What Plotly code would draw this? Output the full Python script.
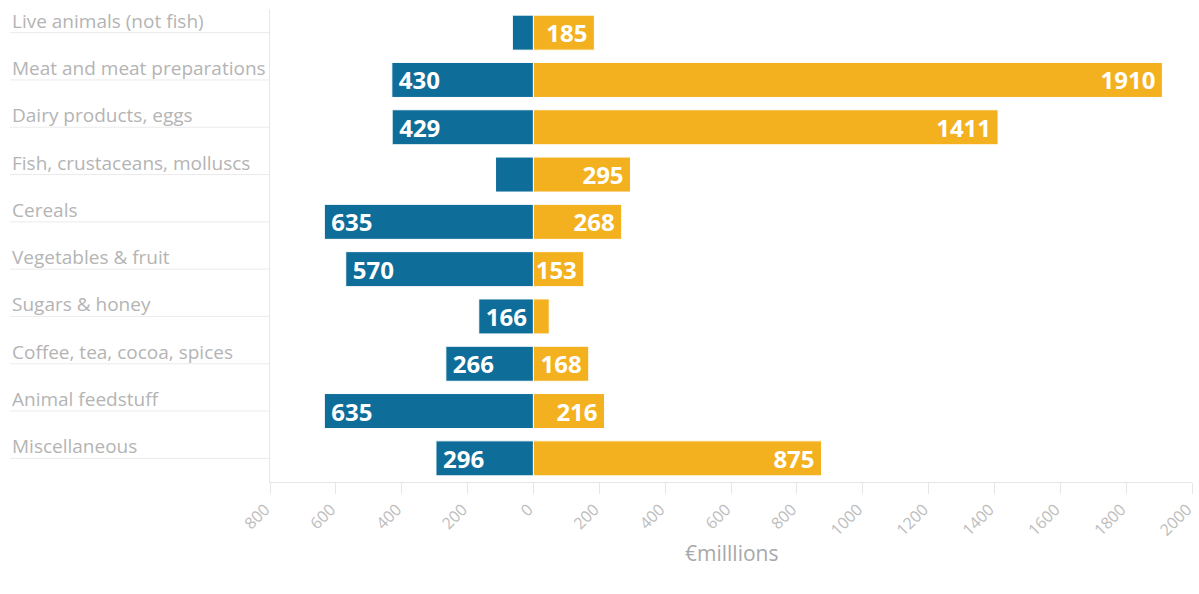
import plotly.graph_objects as go

categories = [
    "Live animals (not fish)",
    "Meat and meat preparations",
    "Dairy products, eggs",
    "Fish, crustaceans, molluscs",
    "Cereals",
    "Vegetables & fruit",
    "Sugars & honey",
    "Coffee, tea, cocoa, spices",
    "Animal feedstuff",
    "Miscellaneous",
]
blue_values = [64, 430, 429, 115, 635, 570, 166, 266, 635, 296]
yellow_values = [185, 1910, 1411, 295, 268, 153, 48, 168, 216, 875]
tick_values = [-800, -600, -400, -200, 0, 200, 400, 600, 800, 1000, 1200, 1400, 1600, 1800, 2000]
tick_labels = ["800", "600", "400", "200", "0", "200", "400", "600", "800", "1000", "1200", "1400", "1600", "1800", "2000"]
axis_title = "€milllions"

BLUE = "#0f6d9a"
YELLOW = "#f4b11f"
FONT = "Open Sans"
LABEL_MIN = 150
PAD = "\u2009"

pos = list(range(len(categories)))

fig = go.Figure()
fig.add_trace(go.Bar(
    y=pos, x=[-v for v in blue_values], orientation="h",
    marker=dict(color=BLUE, line=dict(color="white", width=1)),
    text=[PAD + str(v) if v >= LABEL_MIN else "" for v in blue_values],
    textposition="inside", insidetextanchor="end",
    textfont=dict(family=FONT, size=24, color="white", weight="bold"),
    width=0.74, showlegend=False,
))
fig.add_trace(go.Bar(
    y=pos, x=yellow_values, orientation="h",
    marker=dict(color=YELLOW, line=dict(color="white", width=1)),
    text=[str(v) + PAD if v >= LABEL_MIN else "" for v in yellow_values],
    textposition="inside", insidetextanchor="end",
    textfont=dict(family=FONT, size=24, color="white", weight="bold"),
    width=0.74, showlegend=False,
))

L, R, T, B = 270, 7, 9, 112
W, H = 1199, 594
pw = W - L - R
ph = H - T - B

annotations = []
shapes = []
x_left = (10 - L) / pw
for i, c in enumerate(categories):
    annotations.append(dict(
        x=x_left, xref="paper", y=i, yref="y", yshift=12,
        text=c, showarrow=False, xanchor="left", yanchor="middle",
        font=dict(family=FONT, size=19, color="#b4b4b4"),
    ))
    shapes.append(dict(
        type="line", xref="paper", yref="y", x0=x_left, x1=0, y0=i, y1=i,
        line=dict(color="#ebebeb", width=1), layer="below",
    ))

annotations.append(dict(
    x=0.5, xref="paper", y=(ph - (553 - T)) / ph, yref="paper",
    text=axis_title, showarrow=False, xanchor="center", yanchor="middle",
    font=dict(family=FONT, size=21, color="#a8a8a8"),
))

fig.update_layout(
    width=W, height=H,
    margin=dict(l=L, r=R, t=T, b=B, autoexpand=False),
    barmode="relative", bargap=0.26,
    plot_bgcolor="white", paper_bgcolor="white",
    uniformtext=dict(minsize=24, mode="show"),
    annotations=annotations, shapes=shapes,
    font=dict(family=FONT),
)
fig.update_xaxes(
    range=[-800, 2000], tickvals=tick_values, ticktext=tick_labels,
    tickangle=-45, showgrid=False, zeroline=False,
    showline=True, linecolor="#e6e6e6", linewidth=1,
    ticks="outside", ticklen=11, tickcolor="#e6e6e6",
    ticklabelshift=-5, ticklabeloverflow="allow",
    tickfont=dict(family=FONT, size=16, color="#bdbdbd"),
)
fig.update_yaxes(
    range=[len(categories) - 0.5, -0.5], showticklabels=False,
    showgrid=False, zeroline=False,
    showline=True, linecolor="#e6e6e6", linewidth=1,
)

fig.write_html("out.html")
